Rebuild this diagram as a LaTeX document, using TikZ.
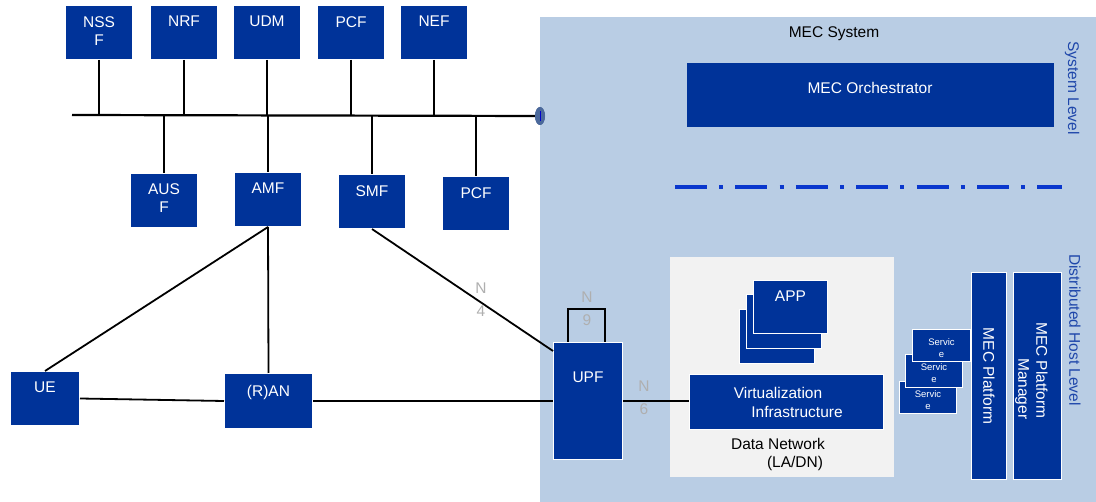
\documentclass[tikz,border=0pt]{standalone}
\usepackage{fontspec}
\setmainfont{Liberation Sans}
\usetikzlibrary{shapes.geometric}
\definecolor{nfblue}{RGB}{0,51,153}
\definecolor{mecbg}{RGB}{185,205,228}
\definecolor{dngrey}{RGB}{242,242,242}
\definecolor{lvlblue}{RGB}{30,70,170}
\definecolor{dashblue}{RGB}{10,55,205}
\definecolor{labgrey}{RGB}{175,175,175}
\definecolor{termfill}{RGB}{75,105,155}
\begin{document}
\begin{tikzpicture}[x=1pt,y=-1pt,
  blk/.style={draw=white, line width=1pt, fill=nfblue, inner sep=0pt, anchor=north west},
  btxt/.style={text=white, font=\fontsize{15.5}{18}\selectfont, align=center, inner sep=0pt, anchor=north},
  stxt/.style={text=white, font=\fontsize{9.5}{12}\selectfont, align=center, inner sep=0pt, anchor=north},
  wtxt/.style={text=white, font=\fontsize{15.5}{18}\selectfont, inner sep=0pt},
  ktxt/.style={text=black, font=\fontsize{15.5}{18}\selectfont, inner sep=0pt},
  lvl/.style={text=lvlblue, font=\fontsize{15.5}{18}\selectfont, inner sep=0pt, rotate=-90},
  wire/.style={line width=1.8pt, black},
  glab/.style={text=labgrey, font=\fontsize{15.5}{23}\selectfont, align=center, inner sep=0pt}]
\useasboundingbox (0,0) rectangle (1096,502);
\fill[white] (0,0) rectangle (1096,502);
% MEC system background
\node[fill=mecbg, inner sep=0pt, minimum width=556pt, minimum height=485pt, anchor=north west] (mec) at (540,17) {};
\node[ktxt] (mectitle) at (834,34) {MEC System};
% top row NFs
\node[blk, minimum width=67pt, minimum height=54pt, label={[btxt,yshift=-11pt]north:NSS\\F}] (nssf) at (65,5) {};
\node[blk, minimum width=67pt, minimum height=54pt, label={[btxt,yshift=-11pt]north:NRF}] (nrf) at (150,5) {};
\node[blk, minimum width=67pt, minimum height=54pt, label={[btxt,yshift=-11pt]north:UDM}] (udm) at (233,5) {};
\node[blk, minimum width=67pt, minimum height=54pt, label={[btxt,yshift=-11pt]north:PCF}] (pcf) at (317,5) {};
\node[blk, minimum width=67pt, minimum height=54pt, label={[btxt,yshift=-11pt]north:NEF}] (nef) at (400,5) {};
% bottom row NFs
\node[blk, minimum width=67pt, minimum height=54pt, label={[btxt,yshift=-10pt]north:AUS\\F}] (ausf) at (130,173) {};
\node[blk, minimum width=67pt, minimum height=54pt, label={[btxt,yshift=-11pt]north:AMF}] (amf) at (234,172) {};
\node[blk, minimum width=67pt, minimum height=54pt, label={[btxt,yshift=-11pt]north:SMF}] (smf) at (338,174) {};
\node[blk, minimum width=67pt, minimum height=54pt, label={[btxt,yshift=-11pt]north:PCF}] (pcfb) at (442,176) {};
% bus
\coordinate (busL) at (72,115);
\node[ellipse, fill=termfill, inner sep=0pt, minimum width=10pt, minimum height=18pt] (term) at (540,116) {};
\begin{scope}[on background layer/.style={}]
\end{scope}
\draw[wire, line width=2.2pt] (busL) -- (term.center);
\fill[termfill] (term.center) ellipse [x radius=5, y radius=9];
\draw[blue!80!black, line width=1pt] ([yshift=-5pt]term.center) -- ([yshift=5pt]term.center);
\foreach \n in {nssf,nrf,udm,pcf,nef}{\draw[wire] (\n.south) -- (\n.south |- busL);}
\foreach \n in {ausf,amf,smf,pcfb}{\draw[wire] (\n.north) -- (\n.north |- busL);}
% access
\node[blk, minimum width=69pt, minimum height=54pt, label={[btxt,yshift=-11pt]north:UE}] (ue) at (10,371) {};
\node[blk, minimum width=88pt, minimum height=55pt, label={[btxt,yshift=-12pt]north:(R)AN}] (ran) at (224,373) {};
% UPF
\node[blk, minimum width=69pt, minimum height=117pt, label={[btxt,yshift=-30pt]north:UPF}] (upf) at (553,342) {};
\draw[wire] (amf.south) -- (ue.north);
\draw[wire] (amf.south) -- (ran.north);
\draw[wire] (ue.east) -- (ran.west);
\draw[wire] (ran.east) -- (ran.east -| upf.west);
\draw[wire] (smf.south) -- ([yshift=-9pt]upf.north west);
\draw[wire] ([xshift=15pt]upf.north west) -- ++(0,-33) -| ([xshift=52pt]upf.north west);
\node[glab] (n4) at (481,300) {N\\4};
\node[glab] (n9) at (587,309) {N\\9};
\node[glab] (n6) at (644,398) {N\\6};
% MEC orchestrator and level separator
\node[blk, draw=none, minimum width=367pt, minimum height=64pt, label={[btxt,yshift=-19pt]north:MEC Orchestrator}] (meo) at (686,63) {};
\coordinate (sepL) at (675,187);
\coordinate (sepR) at (1062,187);
\draw[dashblue, line width=4pt, dash pattern=on 32pt off 12.2pt on 4pt off 12.2pt] (sepL) -- (sepR);
\node[lvl] (syslvl) at (1072,88) {System Level};
\node[lvl] (dhlvl) at (1075,330) {Distributed Host Level};
% Data network
\node[fill=dngrey, inner sep=0pt, minimum width=224pt, minimum height=220pt, anchor=north west] (dn) at (670,257) {};
\node[blk, minimum width=75pt, minimum height=54pt] (app3) at (739,309) {};
\node[blk, minimum width=75pt, minimum height=54pt] (app2) at (746,294) {};
\node[blk, minimum width=74pt, minimum height=53pt, label={[btxt,yshift=-11pt]north:APP}] (app1) at (753,280) {};
\node[blk, minimum width=194pt, minimum height=55pt] (virt) at (689,374) {};
\node[wtxt] (virt1) at (778,393) {Virtualization};
\node[wtxt] (virt2) at (797,412) {Infrastructure};
\node[ktxt] (dn1) at (778,444) {Data Network};
\node[ktxt] (dn2) at (795,463) {(LA/DN)};
\draw[wire] (upf.east) -- (upf.east -| virt.west);
% services
\node[blk, minimum width=57pt, minimum height=32pt, label={[stxt,yshift=-9pt]north:Servic\\e}] (svc3) at (899,381) {};
\node[blk, minimum width=57pt, minimum height=33pt, label={[stxt,yshift=-9pt]north:Servic\\e}] (svc2) at (905,354) {};
\node[blk, minimum width=58pt, minimum height=32pt, label={[stxt,yshift=-9pt]north:Servic\\e}] (svc1) at (912,329) {};
% MEC platform
\node[blk, minimum width=35pt, minimum height=207pt] (mep) at (971,272) {};
\node[wtxt, rotate=-90] (mept) at (989,376) {MEC Platform};
\node[blk, minimum width=48pt, minimum height=207pt] (mepm) at (1013,272) {};
\node[wtxt, rotate=-90, anchor=west] (mepm1) at (1042,322) {MEC Platform};
\node[wtxt, rotate=-90, anchor=west] (mepm2) at (1022,358) {Manager};
\end{tikzpicture}
\end{document}
